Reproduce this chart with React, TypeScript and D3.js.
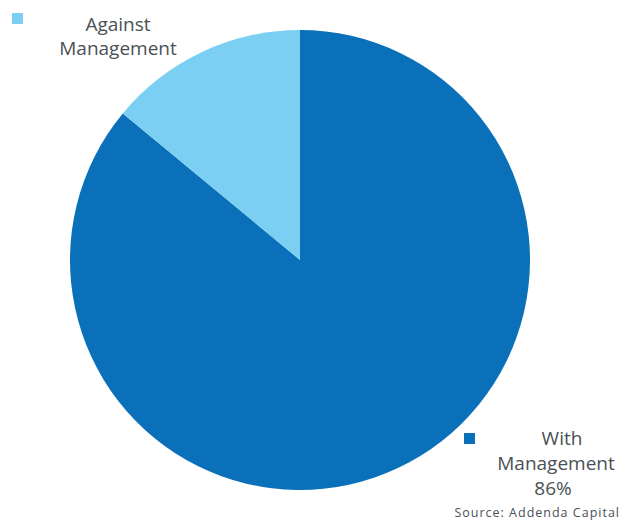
import React from "react";
import * as d3 from "d3";

const categories = ["With Management", "Against Management"];
const values = [86, 14];
const colors = ["#0B70BA", "#7BCFF2"];

export default function App() {
  const width = 623, height = 520;
  const cx = 300, cy = 260, r = 230;
  const pie = d3.pie<number>().sort(null).value((d) => d);
  const arcs = pie(values);
  const arc = d3.arc<d3.PieArcDatum<number>>().innerRadius(0).outerRadius(r);
  const font = "'Open Sans', 'DejaVu Sans', sans-serif";
  const textColor = "#4A5156";
  return (
    <svg width={width} height={height} style={{ position: "absolute", left: 0, top: 0 }}>
      <g transform={`translate(${cx},${cy})`}>
        {arcs.map((a, i) => (
          <path key={i} d={arc(a) || ""} fill={colors[i]} />
        ))}
      </g>
      <rect x={12} y={13} width={11} height={11} fill={colors[1]} />
      <text x={118} y={31} textAnchor="middle" fontFamily={font} fontSize={19} fill={textColor}>Against</text>
      <text x={118} y={55} textAnchor="middle" fontFamily={font} fontSize={19} fill={textColor}>Management</text>
      <rect x={464} y={433} width={11} height={11} fill={colors[0]} />
      <text x={562} y={445} textAnchor="middle" fontFamily={font} fontSize={19} fill={textColor}>With</text>
      <text x={556} y={470} textAnchor="middle" fontFamily={font} fontSize={19} fill={textColor}>Management</text>
      <text x={553} y={495} textAnchor="middle" fontFamily={font} fontSize={19} fill={textColor}>{values[0]}%</text>
      <text x={620} y={517} textAnchor="end" fontFamily={font} fontSize={12.5} letterSpacing={1} fill={textColor}>Source: Addenda Capital</text>
    </svg>
  );
}
